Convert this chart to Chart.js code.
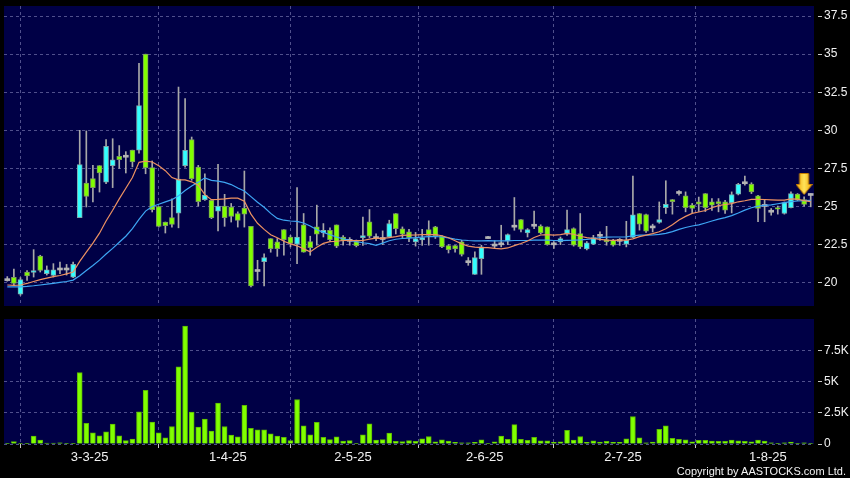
<!DOCTYPE html>
<html><head><meta charset="utf-8">
<script src="https://cdn.jsdelivr.net/npm/chart.js@4.4.1/dist/chart.umd.min.js"></script>
<style>
html,body{margin:0;padding:0;background:#000;width:850px;height:478px;overflow:hidden;}
#pc{position:absolute;left:0;top:0;}
#vc{position:absolute;left:0;top:310px;}
#copy{position:absolute;right:4px;top:465px;color:#f4f4f4;font:11px "Liberation Sans",Arial,sans-serif;line-height:12px;white-space:nowrap;}
</style></head><body>
<canvas id="pc" width="850" height="310"></canvas>
<canvas id="vc" width="850" height="168"></canvas>
<div id="copy">Copyright by AASTOCKS.com Ltd.</div>
<script>
// ---------- data ----------
const tickLabels = ['3-3-25','1-4-25','2-5-25','2-6-25','2-7-25','1-8-25'];
const tickIdx = [12,33,52,72,93,115];
const priceTicks = [20,22.5,25,27.5,30,32.5,35,37.5];
const volTicks = [0,2.5,5,7.5];
const volTickLabels = ['0','2.5K','5K','7.5K'];

const open = [20.2,20.35,19.25,20.7,20.68,21.75,20.6,20.48,20.9,20.9,
20.37,24.27,26.54,26.83,27.68,26.6,27.68,28.3,28.3,28.7,
28.7,35.0,27.55,25.0,23.98,24.27,24.57,27.68,29.39,27.59,
25.45,25.4,24.7,25.03,24.97,24.53,24.9,23.7,20.8,21.38,
22.89,22.68,23.49,23.0,22.52,23.79,22.7,23.66,23.27,23.44,
23.79,23.0,22.78,22.7,22.96,23.99,22.96,22.9,23.0,24.54,
23.53,23.33,22.67,22.8,23.49,23.66,23.05,22.43,22.43,22.68,
21.38,20.55,21.58,22.96,22.47,22.55,22.74,23.71,24.14,23.27,
23.77,23.71,23.66,22.55,22.68,23.18,23.55,23.22,22.21,22.52,
23.11,22.83,22.78,22.78,22.52,22.97,24.54,24.47,23.66,23.95,
24.93,25.46,25.92,25.7,25.09,25.3,25.85,25.3,25.33,25.3,
25.26,25.81,26.56,26.47,25.7,25.07,24.69,24.93,24.54,24.93,
25.81,25.46,25.79];
const high = [20.4,20.9,20.33,20.8,22.17,21.8,21.1,21.25,21.35,21.2,
21.35,30.0,29.96,27.7,27.68,29.4,29.45,29.0,28.6,28.7,
34.4,35.0,27.99,25.0,23.98,25.5,32.84,32.08,29.56,27.7,
27.15,25.45,27.77,25.8,25.2,24.65,27.33,23.7,21.47,21.9,
22.89,22.9,23.49,23.1,26.25,24.54,23.05,25.09,23.88,23.6,
23.79,23.1,22.96,22.8,24.3,24.8,23.2,23.4,24.1,24.54,
23.66,23.5,23.3,23.5,24.06,23.7,23.1,22.5,22.45,22.78,
21.65,22.02,22.46,23.05,22.75,23.77,23.2,25.59,24.14,23.55,
24.7,23.8,23.66,22.7,23.0,24.76,23.6,24.54,22.7,23.11,
23.33,23.7,22.85,22.9,24.03,27.0,24.54,24.5,23.84,25.3,
26.69,25.46,26.05,25.96,25.2,25.62,25.85,25.52,25.52,25.41,
25.96,26.52,27.0,26.56,25.74,25.41,24.87,25.03,25.3,25.96,
25.85,25.63,25.85];
const low = [20.1,19.8,19.17,20.15,20.37,20.7,20.5,20.37,20.6,20.5,
20.33,24.27,24.97,25.3,25.95,26.5,26.24,27.5,27.2,27.6,
28.5,27.15,24.64,23.65,23.26,23.65,23.6,27.59,26.72,25.03,
25.4,24.2,23.39,23.7,23.98,23.65,23.65,19.72,20.15,19.78,
22.0,21.73,21.8,22.35,21.25,22.0,21.8,22.46,23.0,22.74,
22.3,22.46,22.46,22.35,22.45,22.96,22.75,22.5,22.96,23.2,
22.96,22.7,22.4,22.45,22.46,22.9,22.3,21.95,22.0,21.75,
21.14,20.55,20.55,22.9,22.25,22.35,22.5,23.44,23.34,23.0,
23.55,23.2,22.46,22.25,22.5,23.11,22.4,22.24,22.15,22.5,
22.78,22.46,22.4,22.45,22.35,22.96,23.45,23.3,23.33,23.9,
24.54,24.5,25.75,24.65,24.6,24.67,24.67,24.74,24.65,24.54,
24.58,25.76,26.4,25.85,24.0,24.0,24.43,24.5,24.5,24.9,
25.38,25.02,24.98];
const close = [20.2,19.95,20.2,20.45,20.8,20.8,20.85,20.85,20.9,20.9,
21.2,27.75,25.67,26.24,27.2,28.95,28.07,28.07,28.3,27.92,
31.62,27.55,24.8,23.7,23.74,23.83,26.8,28.69,26.83,25.32,
25.75,24.27,25.03,24.27,24.35,24.09,24.49,19.78,20.8,21.64,
22.23,22.24,22.83,22.57,23.0,22.0,22.3,23.18,23.44,22.83,
22.39,22.74,22.78,22.43,23.1,23.05,22.96,22.9,23.88,23.55,
23.18,22.96,22.9,22.96,23.11,23.09,22.35,22.17,22.21,21.86,
21.38,21.65,22.35,22.96,22.47,22.55,23.16,23.71,23.49,23.49,
23.77,23.27,22.5,22.55,22.9,23.49,22.46,22.35,22.61,22.96,
23.11,22.68,22.46,22.78,22.78,24.45,23.84,23.38,23.66,24.14,
25.15,25.31,25.92,24.93,24.87,25.15,24.93,25.09,25.18,24.76,
25.79,26.45,26.56,25.96,24.87,25.07,24.69,24.82,25.26,25.85,
25.42,25.13,25.79];
const volumeK = [0.05,0.19,0.05,0.05,0.64,0.32,0.08,0.08,0.1,0.06,
0.06,5.72,1.65,0.9,0.66,0.98,1.6,0.66,0.27,0.4,
2.58,4.3,1.75,0.9,0.5,1.4,6.17,9.44,2.55,1.36,
2.0,1.04,3.27,1.4,0.72,0.58,3.1,1.25,1.14,1.14,
0.82,0.64,0.53,0.27,3.56,1.46,0.74,1.73,0.53,0.35,
0.58,0.24,0.27,0.02,0.74,1.62,0.32,0.35,0.88,0.21,
0.19,0.27,0.21,0.42,0.6,0.18,0.34,0.24,0.13,0.1,
0.1,0.13,0.34,0.02,0.18,0.63,0.37,1.55,0.37,0.29,
0.53,0.26,0.26,0.13,0.18,1.1,0.32,0.6,0.13,0.26,
0.16,0.21,0.13,0.13,0.42,2.2,0.5,0.1,0.16,1.18,
1.45,0.45,0.37,0.34,0.18,0.29,0.29,0.24,0.21,0.21,
0.32,0.26,0.21,0.18,0.32,0.24,0.1,0.05,0.1,0.16,
0.05,0.1,0.05];
const ma10 = [19.85,19.82,19.85,19.95,20.08,20.2,20.3,20.4,20.47,20.58,
20.7,21.4,22.0,22.6,23.25,24.05,24.75,25.5,26.2,26.9,
27.9,27.98,27.92,27.68,27.35,26.9,26.75,26.75,26.62,26.4,
25.78,25.45,25.47,25.5,25.55,25.55,25.35,24.5,23.9,23.5,
23.15,22.95,22.72,22.55,22.42,22.22,22.02,22.33,22.58,22.7,
22.72,22.77,22.77,22.76,22.77,22.86,22.93,22.91,22.96,23.02,
23.1,23.12,23.13,23.15,23.15,23.15,23.08,22.95,22.75,22.55,
22.4,22.33,22.3,22.3,22.25,22.22,22.28,22.43,22.57,22.74,
22.97,23.13,23.15,23.12,23.16,23.24,23.18,23.05,22.96,22.9,
22.84,22.79,22.78,22.8,22.79,22.88,23.02,23.12,23.22,23.34,
23.54,23.8,24.12,24.35,24.55,24.64,24.74,24.92,25.06,25.13,
25.19,25.31,25.38,25.47,25.47,25.46,25.44,25.42,25.42,25.5,
25.48,25.38,25.32];
const ma20 = [19.72,19.72,19.73,19.76,19.8,19.85,19.9,19.96,20.02,20.08,
20.17,20.45,20.8,21.13,21.48,21.88,22.25,22.65,23.05,23.55,
24.15,24.7,25.0,25.15,25.3,25.45,25.7,26.05,26.35,26.6,
26.88,26.72,26.66,26.58,26.44,26.22,26.02,25.65,25.28,24.95,
24.55,24.22,24.1,24.05,24.02,23.92,23.72,23.47,23.3,23.15,
23.0,22.88,22.78,22.7,22.62,22.56,22.45,22.6,22.75,22.85,
22.9,22.93,22.96,23.0,23.02,23.03,23.0,22.94,22.86,22.8,
22.77,22.75,22.75,22.76,22.75,22.74,22.75,22.77,22.77,22.77,
22.79,22.8,22.79,22.77,22.76,22.78,22.79,22.81,22.84,22.89,
22.96,22.99,23.0,23.0,23.01,23.08,23.12,23.12,23.13,23.17,
23.24,23.35,23.5,23.62,23.72,23.8,23.92,24.05,24.17,24.27,
24.4,24.57,24.76,24.92,25.03,25.07,25.11,25.18,25.25,25.32,
25.36,25.38,25.4];
const markerIdx = 121;
const markerPrice = 26.48;

// ---------- styles ----------
const NAVY = '#000046';
const GRID = '#50508c';
const TXT = '#f2f2f2';
const UP = '#33ffff', UPB = '#7fa8ac';
const DN = '#80ff00', DNB = '#7c9c5c';
const DOJI = '#b4b4b4';
const WICK = '#a8a8a8';
const FONT = 'Liberation Sans';

const n = close.length;
const xs = close.map((_, i) => i);

const bgPlugin = {id: 'bg', beforeDraw(c) {
  const a = c.chartArea, g = c.ctx;
  g.save(); g.fillStyle = NAVY; g.fillRect(a.left, a.top, a.right - a.left, a.bottom - a.top); g.restore();
}};

function xScale(showLabels) {
  return {
    type: 'linear', min: -0.5, max: n - 0.5, offset: false, bounds: 'data',
    afterBuildTicks: s => { s.ticks = tickIdx.map(i => ({value: i + 0.5})); },
    afterFit: s => { s.height = showLabels ? 34 : 0; s.paddingLeft = 0; s.paddingRight = 0; },
    grid: {color: GRID, lineWidth: 1, drawTicks: showLabels, tickLength: 4, tickColor: '#c8c8c8', tickBorderDash: [4, 0]},
    border: {display: false, dash: [3, 3]},
    ticks: {display: showLabels, color: TXT, font: {family: FONT, size: 13}, padding: 2, maxRotation: 0, autoSkip: false,
      callback: (v, k) => tickLabels[k]}
  };
}
function yScale(min, max, ticks, labels) {
  return {
    position: 'right', min: min, max: max, bounds: 'data',
    afterBuildTicks: s => { s.ticks = ticks.map(v => ({value: v})); },
    afterFit: s => { s.width = 36; s.paddingTop = 0; s.paddingBottom = 0; },
    grid: {color: GRID, lineWidth: 1, drawTicks: true, tickLength: 8, tickColor: '#c8c8c8', tickBorderDash: [4, 4], tickBorderDashOffset: 4},
    border: {display: false, dash: [3, 3]},
    ticks: {color: TXT, font: {family: FONT, size: 12}, padding: 2, autoSkip: false,
      callback: (v, k) => labels[k]}
  };
}

function arrowImg() {
  const c = document.createElement('canvas'); c.width = 17; c.height = 22;
  const g = c.getContext('2d');
  g.beginPath();
  g.moveTo(4, 0.5); g.lineTo(13, 0.5); g.lineTo(13, 11.5); g.lineTo(16.5, 11.5);
  g.lineTo(8.5, 21.5); g.lineTo(0.5, 11.5); g.lineTo(4, 11.5); g.closePath();
  const gr = g.createLinearGradient(0, 0, 17, 0);
  gr.addColorStop(0, '#f2a400'); gr.addColorStop(0.5, '#ffe35a'); gr.addColorStop(1, '#f2a400');
  g.fillStyle = gr; g.fill();
  g.strokeStyle = '#c88000'; g.lineWidth = 1; g.stroke();
  return c;
}

// candle pieces
const wickData = xs.map(i => ({x: i, y: [low[i], high[i]]}));
const bodyData = xs.map(i => {
  let a = Math.min(open[i], close[i]), b = Math.max(open[i], close[i]);
  if (b - a < 0.02) { a -= 0.065; b += 0.065; }
  return {x: i, y: [a, b]};
});
const kind = xs.map(i => close[i] > open[i] ? 1 : (close[i] < open[i] ? -1 : 0));
const bodyFill = kind.map(k => k > 0 ? UP : (k < 0 ? DN : DOJI));
const bodyBorder = kind.map(k => k > 0 ? UPB : (k < 0 ? DNB : DOJI));
const bodyBW = kind.map(k => k === 0 ? 0 : 1);

new Chart(document.getElementById('pc'), {
  type: 'bar',
  data: {datasets: [
    {type: 'scatter', data: [{x: markerIdx, y: markerPrice}], pointStyle: arrowImg(), pointRadius: 10, order: 0},
    {type: 'line', data: xs.map(i => ({x: i, y: ma10[i]})), borderColor: '#ee9262', borderWidth: 1.2, pointRadius: 0, tension: 0, order: 1},
    {type: 'line', data: xs.map(i => ({x: i, y: ma20[i]})), borderColor: '#3ea6f4', borderWidth: 1.2, pointRadius: 0, tension: 0, order: 2},
    {type: 'bar', data: bodyData, backgroundColor: bodyFill, borderColor: bodyBorder, borderWidth: bodyBW, borderSkipped: false, barThickness: 5, grouped: false, order: 3},
    {type: 'bar', data: wickData, backgroundColor: WICK, borderWidth: 0, barThickness: 1, grouped: false, order: 4}
  ]},
  options: {
    responsive: false, animation: false, devicePixelRatio: 1, events: [],
    layout: {autoPadding: false, padding: {left: 4, top: 6, right: 0, bottom: 4}},
    plugins: {legend: {display: false}, tooltip: {enabled: false}},
    scales: {
      x: xScale(false),
      y: yScale(18.47, 38.16, priceTicks, priceTicks.map(v => String(v)))
    }
  },
  plugins: [bgPlugin]
});

new Chart(document.getElementById('vc'), {
  type: 'bar',
  data: {datasets: [
    {type: 'bar', data: xs.map(i => ({x: i, y: volumeK[i]})), backgroundColor: '#80ff00', borderColor: '#5cb800', borderWidth: 1, borderSkipped: 'bottom', barThickness: 5, grouped: false}
  ]},
  options: {
    responsive: false, animation: false, devicePixelRatio: 1, events: [],
    layout: {autoPadding: false, padding: {left: 4, top: 9, right: 0, bottom: 0}},
    plugins: {legend: {display: false}, tooltip: {enabled: false}},
    scales: {
      x: xScale(true),
      y: yScale(0, 10, volTicks, volTickLabels)
    }
  },
  plugins: [bgPlugin]
});
</script>
</body></html>
